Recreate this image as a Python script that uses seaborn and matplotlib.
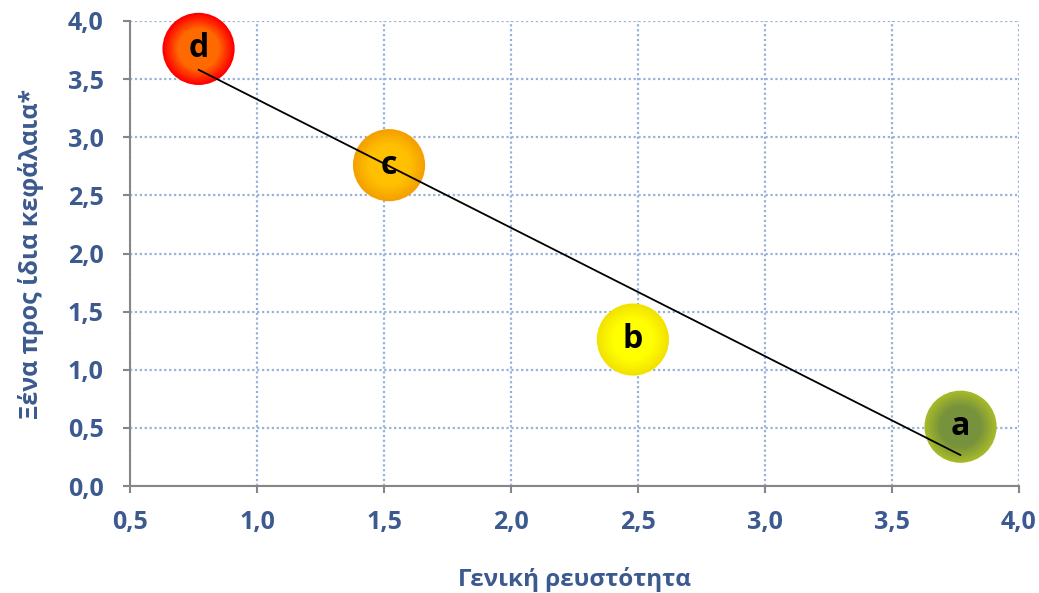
import numpy as np
import pandas as pd
import matplotlib
matplotlib.use("Agg")
import matplotlib.pyplot as plt
import matplotlib.colors as mcolors
import seaborn as sns
from matplotlib.ticker import FuncFormatter

# ---- data ----
labels = ["a", "b", "c", "d"]
liquidity = [3.77, 2.48, 1.52, 0.77]        # Γενική ρευστότητα
debt_equity = [0.51, 1.26, 2.76, 3.76]      # Ξένα προς ίδια κεφάλαια
x_ticks = [0.5, 1.0, 1.5, 2.0, 2.5, 3.0, 3.5, 4.0]
y_ticks = [0.0, 0.5, 1.0, 1.5, 2.0, 2.5, 3.0, 3.5, 4.0]

# bubble gradient colours (edge, centre)
grad = {
    "a": ("#A6B82A", "#76923C"),
    "b": ("#F2E200", "#FFFF00"),
    "c": ("#F5A000", "#FFC000"),
    "d": ("#FF0000", "#FF6A00"),
}

df = pd.DataFrame({"label": labels, "x": liquidity, "y": debt_equity})

sns.set_theme(style="white")
plt.rcParams["font.family"] = ["Open Sans", "DejaVu Sans"]

txt_col = "#3C5A8F"
fig = plt.figure(figsize=(10.39, 5.93), dpi=100)
ax = fig.add_axes([0.1251, 0.1804, 0.8556, 0.7842])

# trend line (linear fit through data)
sns.regplot(data=df, x="x", y="y", ax=ax, scatter=False, ci=None, truncate=True,
            line_kws=dict(color="black", lw=1.3, zorder=6))

# bubbles with radial gradient
base_s = 2700
n_layers = 14
for lab in labels:
    sub = df[df.label == lab]
    edge, centre = grad[lab]
    c0 = np.array(mcolors.to_rgb(edge))
    c1 = np.array(mcolors.to_rgb(centre))
    for i in range(n_layers):
        t = i / (n_layers - 1)
        frac = 1.0 - 0.75 * t
        col = c0 + (c1 - c0) * min(1.0, t * 1.8)
        sns.scatterplot(data=sub, x="x", y="y", ax=ax, s=base_s * frac ** 2,
                        color=tuple(col), edgecolor="none", linewidth=0,
                        legend=False, zorder=2 + i * 0.01, clip_on=False)

for lab, x, y in zip(labels, liquidity, debt_equity):
    ax.text(x, y, lab, ha="center", va="center", fontsize=23, fontweight="bold",
            color="black", zorder=7)

ax.set_xlim(0.5, 4.0)
ax.set_ylim(0.0, 4.0)
ax.set_xticks(x_ticks)
ax.set_yticks(y_ticks)
fmt = FuncFormatter(lambda v, p: f"{v:.1f}".replace(".", ","))
ax.xaxis.set_major_formatter(fmt)
ax.yaxis.set_major_formatter(fmt)

ax.grid(True, color="#95B3D7", linestyle=(0, (1, 1.2)), linewidth=1.6, zorder=0)
ax.set_axisbelow(True)
for s in ["top", "right"]:
    ax.spines[s].set_visible(False)
for s in ["left", "bottom"]:
    ax.spines[s].set_color("#868686")
    ax.spines[s].set_linewidth(1.5)
    ax.spines[s].set_zorder(1)

ax.tick_params(axis="both", which="major", direction="out", length=5, width=1.5,
               color="#868686", labelsize=18, labelcolor=txt_col,
               bottom=True, left=True)
ax.tick_params(axis="y", pad=14)
ax.tick_params(axis="x", pad=12)
for lbl in ax.get_xticklabels() + ax.get_yticklabels():
    lbl.set_fontweight("bold")

ax.set_xlabel("Γενική ρευστότητα", fontsize=17.5, fontweight="bold", color=txt_col)
ax.set_ylabel("Ξένα προς ίδια κεφάλαια*", fontsize=18, fontweight="bold", color=txt_col)
ax.xaxis.set_label_coords(0.5, -0.175)
ax.yaxis.set_label_coords(-0.097, 0.5)

fig.savefig("out.png", dpi=100)
